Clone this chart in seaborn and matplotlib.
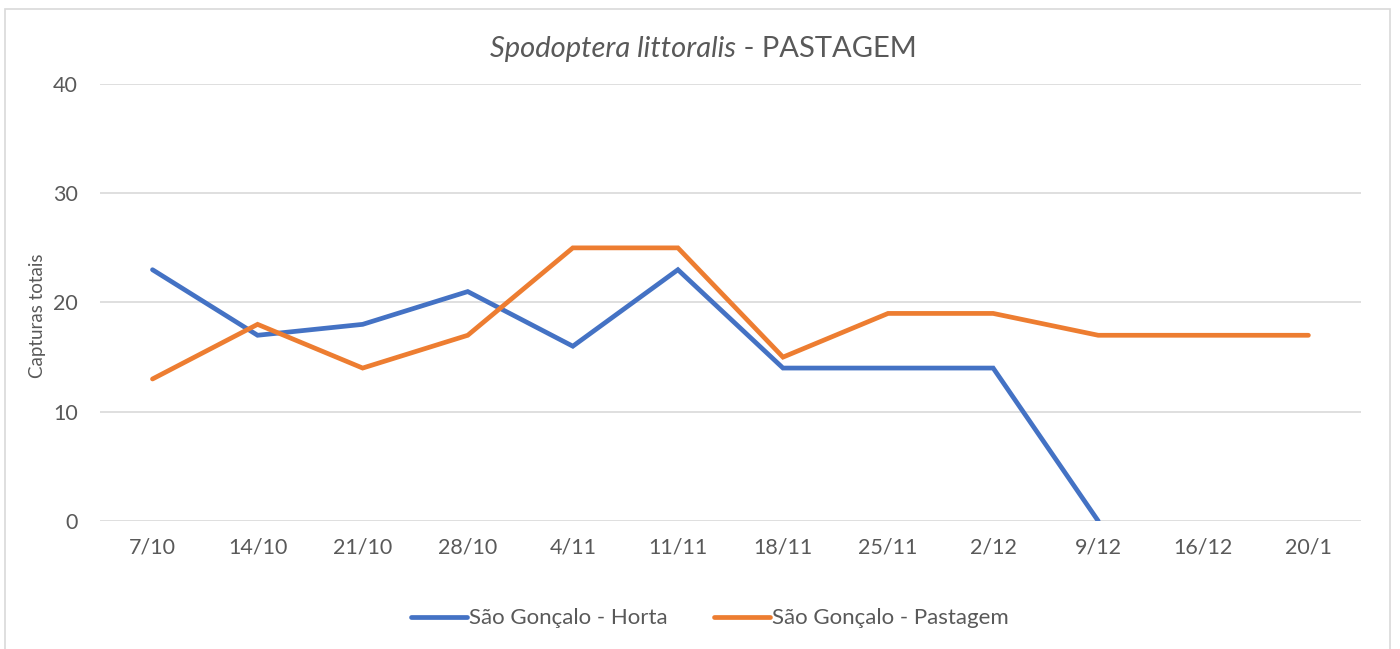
import numpy as np
import pandas as pd
import seaborn as sns
import matplotlib.pyplot as plt
from matplotlib.patches import Rectangle
from matplotlib.lines import Line2D

# Dados
datas = ['7/10', '14/10', '21/10', '28/10', '4/11', '11/11', '18/11', '25/11', '2/12', '9/12', '16/12', '20/1']
horta = [23, 17, 18, 21, 16, 23, 14, 14, 14, 0, np.nan, np.nan]
pastagem = [13, 18, 14, 17, 25, 25, 15, 19, 19, 17, 17, 17]

serie_horta = 'São Gonçalo - Horta'
serie_pastagem = 'São Gonçalo - Pastagem'

df = pd.DataFrame({'data': datas, serie_horta: horta, serie_pastagem: pastagem})
df['pos'] = range(len(df))
longo = df.melt(id_vars=['data', 'pos'], var_name='serie', value_name='capturas')

sns.set_style("white")
plt.rcParams['font.family'] = ['Lato', 'DejaVu Sans']
cinza = '#595959'

fig = plt.figure(figsize=(14, 6.49), dpi=100)
ax = fig.add_axes([0.0714, 0.1972, 0.9007, 0.6734])

sns.lineplot(data=longo, x='pos', y='capturas', hue='serie',
             palette={serie_horta: '#4472C4', serie_pastagem: '#ED7D31'},
             linewidth=3.4, ax=ax, legend=False, sort=False)
for ln in ax.lines:
    ln.set_solid_capstyle('round')
    ln.set_solid_joinstyle('miter')

ax.set_xlim(-0.5, len(datas) - 0.5)
ax.set_ylim(0, 40)
ax.set_yticks([0, 10, 20, 30, 40])
ax.set_xticks(range(len(datas)))
ax.set_xticklabels(datas)
ax.tick_params(axis='both', colors=cinza, labelsize=15.5, length=0)
ax.tick_params(axis='x', pad=12)
ax.tick_params(axis='y', pad=16)
ax.grid(axis='y', color='#d9d9d9', linewidth=1.2)
ax.set_axisbelow(True)
for s in ax.spines.values():
    s.set_visible(False)

ax.set_xlabel('')
ax.set_ylabel('Capturas totais', color=cinza, fontsize=13.5)
ax.yaxis.set_label_coords(-0.043, 0.47)

# titulo: parte em italico + parte normal
fig.text(0.526, 0.925, 'Spodoptera littoralis', color=cinza, fontsize=21,
         style='italic', ha='right', va='center')
fig.text(0.526, 0.925, ' - PASTAGEM', color=cinza, fontsize=21,
         ha='left', va='center')

handles = [Line2D([0], [0], color='#4472C4', lw=3.4, solid_capstyle='round'),
           Line2D([0], [0], color='#ED7D31', lw=3.4, solid_capstyle='round')]
fig.legend(handles, [serie_horta, serie_pastagem], loc='center',
           bbox_to_anchor=(0.507, 0.047), ncol=2, frameon=False,
           fontsize=16, labelcolor=cinza, handlelength=2.5,
           handletextpad=0.1, columnspacing=2.1)

fig.patches.append(Rectangle((5 / 1400, -0.05), 1385 / 1400, 1 - 9 / 649 + 0.05,
                             transform=fig.transFigure, fill=False,
                             edgecolor='#d9d9d9', linewidth=1.2))

plt.savefig('out.png', dpi=100)
plt.close()
